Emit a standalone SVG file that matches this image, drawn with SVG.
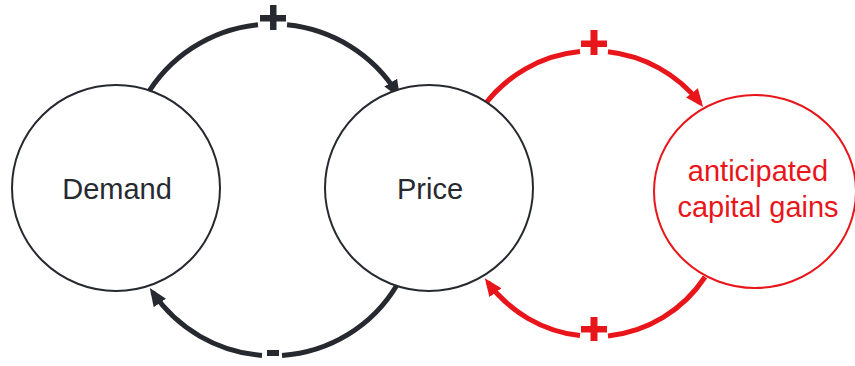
<svg xmlns="http://www.w3.org/2000/svg" width="855" height="366" viewBox="0 0 855 366">
<style>
.node{fill:#fff;stroke-width:2}
.dk{stroke:#262a30}
.rd{stroke:#e8161b}
.lbl{font-family:"Liberation Sans",Arial,sans-serif;font-size:29px;text-anchor:middle}
.tdk{fill:#262a30}
.trd{fill:#e8161b}
.link{fill:none;stroke-width:5;stroke-linecap:butt}
</style>
<defs>
<marker id="ahd" markerUnits="userSpaceOnUse" viewBox="0 0 18 15" refX="13" refY="7.5" markerWidth="18" markerHeight="15" orient="auto"><path d="M0,0 L18,7.5 L0,15 z" fill="#262a30"/></marker>
<marker id="ahr" markerUnits="userSpaceOnUse" viewBox="0 0 18 15" refX="13" refY="7.5" markerWidth="18" markerHeight="15" orient="auto"><path d="M0,0 L18,7.5 L0,15 z" fill="#e8161b"/></marker>
</defs>
<g id="connectors">
<path class="link dk" d="M145,98 A146.8,146.8 0 0 1 258,24.7 M287,24.7 A146.8,146.8 0 0 1 397.5,93.7" marker-end="url(#ahd)"/>
<path class="link dk" d="M397,285 A145,145 0 0 1 282,355.4 M262,355.4 A145,145 0 0 1 152.6,292.2" marker-end="url(#ahd)"/>
<path class="link rd" d="M483,107 A136,136 0 0 1 580,51.6 M608,51.8 A136,136 0 0 1 700,103" marker-end="url(#ahr)"/>
<path class="link rd" d="M705,277 A132.5,132.5 0 0 1 608,335.9 M580,335.6 A132.5,132.5 0 0 1 487.8,282.2" marker-end="url(#ahr)"/>
<g id="sign-top-dark" class="tdk"><rect x="260" y="15" width="26" height="6.5"/><rect x="270" y="5" width="6.5" height="25"/></g>
<g id="sign-bottom-dark" class="tdk"><rect x="267" y="350" width="12" height="6"/></g>
<g id="sign-top-red" class="trd"><rect x="581" y="40.5" width="26" height="6.5"/><rect x="590.5" y="30" width="7" height="25"/></g>
<g id="sign-bottom-red" class="trd"><rect x="581" y="326" width="26" height="6.5"/><rect x="590.5" y="317" width="7" height="24"/></g>
</g>
<g id="demand">
<ellipse class="node dk" cx="116" cy="188" rx="104" ry="103"/>
<text class="lbl tdk" x="117" y="199">Demand</text>
</g>
<g id="price">
<ellipse class="node dk" cx="429" cy="188" rx="104" ry="103"/>
<text class="lbl tdk" x="430" y="199">Price</text>
</g>
<g id="anticipated-capital-gains">
<ellipse class="node rd" cx="755" cy="191.5" rx="101" ry="96.5"/>
<text class="lbl trd" x="758" y="181">anticipated</text>
<text class="lbl trd" x="758" y="217">capital gains</text>
</g>
</svg>
